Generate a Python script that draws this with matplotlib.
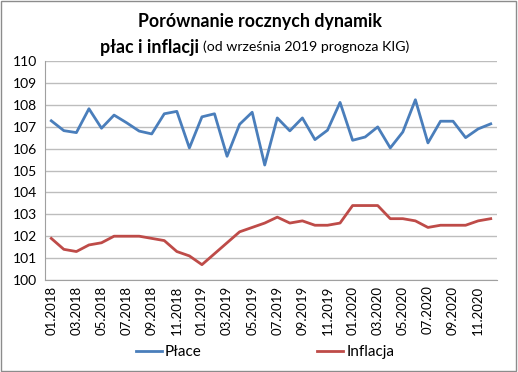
import matplotlib.pyplot as plt
import matplotlib.patches as mpatches

plt.rcParams['font.family'] = ['Lato', 'DejaVu Sans']

months = [f"{m:02d}.{y}" for y in (2018, 2019, 2020) for m in range(1, 13)]

place = [107.27, 106.82, 106.73, 107.82, 106.93, 107.53, 107.18, 106.80, 106.67, 107.59,
         107.70, 106.03, 107.45, 107.59, 105.65, 107.11, 107.66, 105.25,
         107.40, 106.81, 107.40, 106.41, 106.84, 108.11, 106.38, 106.53, 106.99, 106.03,
         106.76, 108.23, 106.26, 107.25, 107.25, 106.50, 106.90, 107.13]

inflacja = [101.9, 101.4, 101.3, 101.6, 101.7, 102.0, 102.0, 102.0, 101.9, 101.8,
            101.3, 101.1, 100.7, 101.2, 101.7, 102.2, 102.4, 102.6,
            102.87, 102.6, 102.7, 102.5, 102.5, 102.6, 103.4, 103.4, 103.4, 102.8,
            102.8, 102.7, 102.4, 102.5, 102.5, 102.5, 102.7, 102.8]

fig = plt.figure(figsize=(5.18, 3.72), dpi=100)
ax = fig.add_axes([45 / 518, 1 - 280 / 372, 452 / 518, 219 / 372])

x = list(range(len(months)))
ax.plot(x, place, color='#4A7EBB', lw=2.0, label='Płace')
ax.plot(x, inflacja, color='#BE4B48', lw=2.0, label='Inflacja')

ax.set_xlim(-0.5, len(months) - 0.5)
ax.set_ylim(100, 110)
ax.set_yticks(range(100, 111))
ax.set_xticks(x[::2])
ax.set_xticklabels(months[::2], rotation=90, fontsize=9.5)
ax.tick_params(axis='y', labelsize=10, length=0, pad=6)
ax.tick_params(axis='x', length=0, pad=4)
ax.grid(axis='y', color='#bdbdbd', lw=1)
ax.set_axisbelow(True)
for s in ['top', 'right']:
    ax.spines[s].set_visible(False)
for s in ['left', 'bottom']:
    ax.spines[s].set_color('#a0a0a0')

# title: two lines, second one mixes bold and regular text
fig.text(260 / 518, 1 - 22 / 372, 'Porównanie rocznych dynamik', ha='center', va='center',
         fontsize=12.8, fontweight='bold')
fig.text(100 / 518, 1 - 47 / 372, 'płac i inflacji', ha='left', va='center',
         fontsize=12.8, fontweight='bold')
fig.text(203 / 518, 1 - 47 / 372, '(od września 2019 prognoza KIG)', ha='left', va='center',
         fontsize=10.2)

fig.legend(loc='center', bbox_to_anchor=(265 / 518, 1 - 352 / 372), ncol=2, frameon=False,
           fontsize=11, columnspacing=7.6, handlelength=1.7, handletextpad=0.2)

fig.patches.append(mpatches.Rectangle((0.002, 0.003), 0.994, 0.994, transform=fig.transFigure,
                                      fill=False, edgecolor='#8c8c8c', lw=1))

fig.savefig('out.png', dpi=100)
